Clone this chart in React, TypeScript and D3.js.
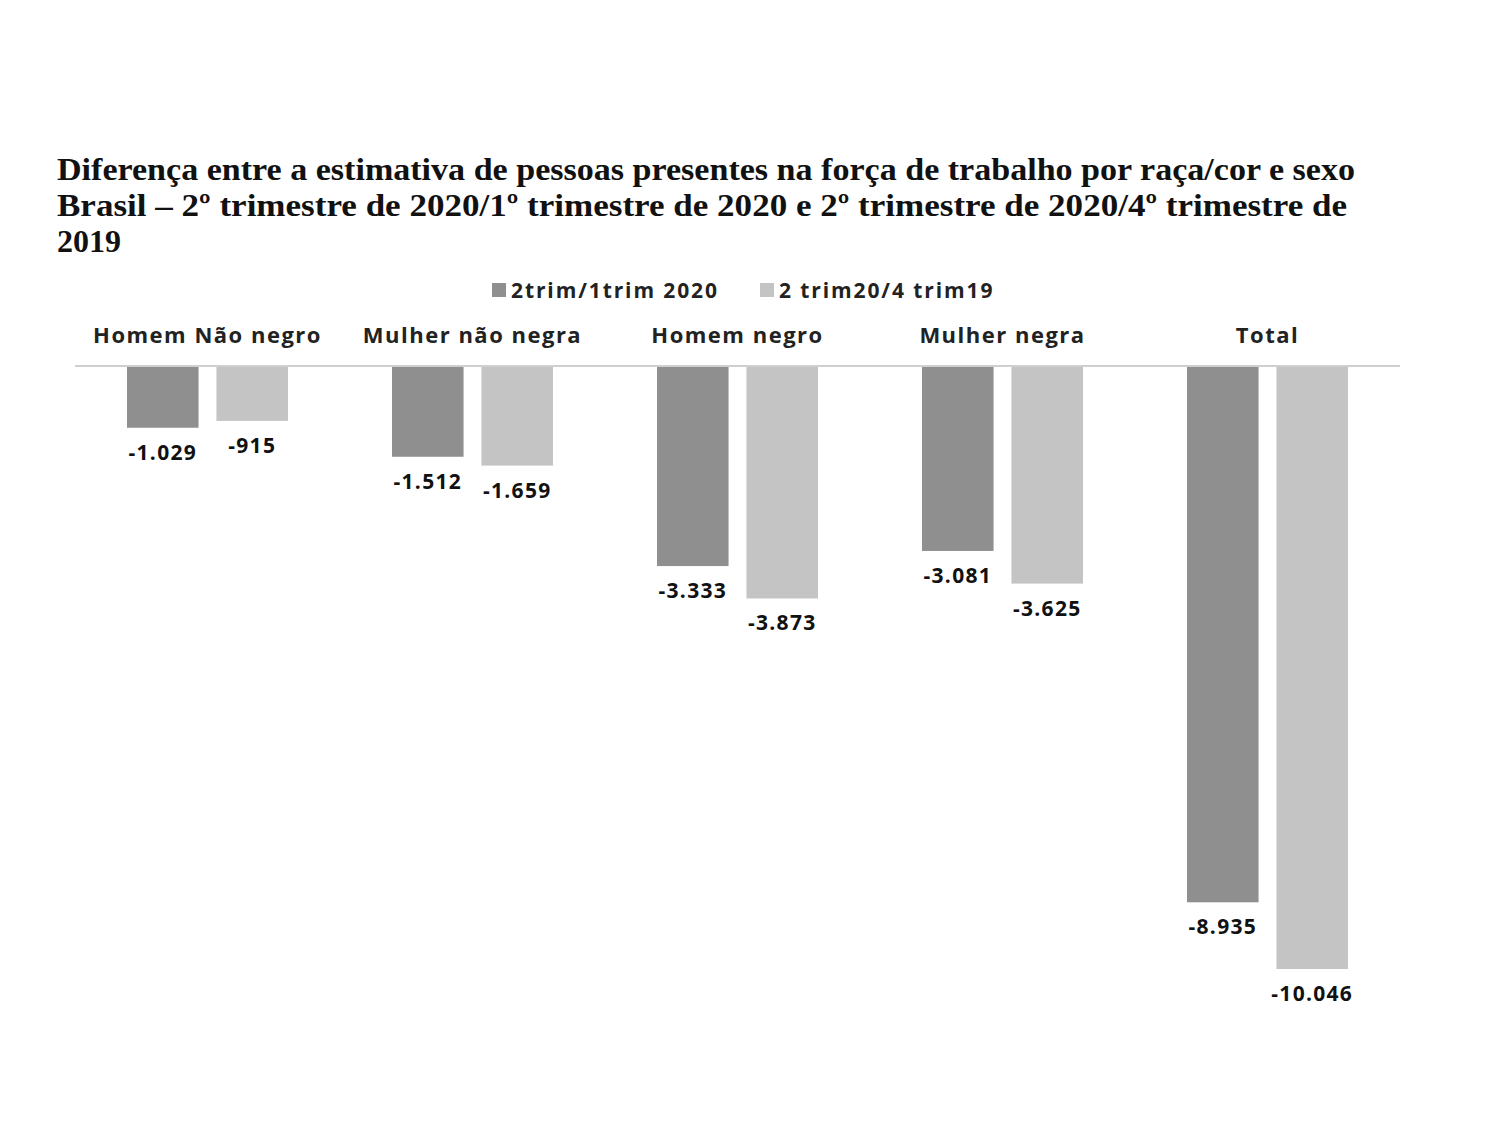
import React, { useEffect, useRef } from 'react';
import * as d3 from 'd3';

const categories = ['Homem Não negro', 'Mulher não negra', 'Homem negro', 'Mulher negra', 'Total'];
const seriesNames = ['2trim/1trim 2020', '2 trim20/4 trim19'];
const trim1Values = [-1029, -1512, -3333, -3081, -8935];
const trim4Values = [-915, -1659, -3873, -3625, -10046];
const titleLines = [
	'Diferença entre a estimativa de pessoas presentes na força de trabalho por raça/cor e sexo',
	'Brasil – 2º trimestre de 2020/1º trimestre de 2020 e 2º trimestre de 2020/4º trimestre de',
	'2019',
];
const titleWidths = [1298, 1290, null];

const colors = ['#8f8f8f', '#c4c4c4'];
const fmt = (v: number) => d3.format(',')(v).replace(/,/g, '.').replace('−', '-');

const App: React.FC = () => {
	const svgRef = useRef<SVGSVGElement | null>(null);

	useEffect(() => {
		if (!svgRef.current) return;
		const width = 1506;
		const height = 1131;
		const svg = d3.select(svgRef.current).attr('width', width).attr('height', height);
		svg.selectAll('*').remove();

		svg.append('rect').attr('width', width).attr('height', height).attr('fill', '#fff');

		// título
		svg
			.append('g')
			.selectAll('text')
			.data(titleLines)
			.join('text')
			.attr('x', 57)
			.attr('y', (_, i) => 180 + i * 36)
			.attr('font-family', '"Liberation Serif", serif')
			.attr('font-weight', 'bold')
			.attr('font-size', 32)
			.attr('fill', '#111')
			.attr('textLength', (_, i) => titleWidths[i])
			.attr('lengthAdjust', 'spacingAndGlyphs')
			.text((d) => d);

		const sansFont = '"Open Sans", Lato, sans-serif';

		// legenda
		const legendX = [492, 760];
		const legend = svg
			.append('g')
			.selectAll('g')
			.data(seriesNames)
			.join('g')
			.attr('transform', (_, i) => `translate(${legendX[i]}, 283)`);
		legend
			.append('rect')
			.attr('width', 14)
			.attr('height', 14)
			.attr('fill', (_, i) => colors[i]);
		legend
			.append('text')
			.attr('x', 19)
			.attr('y', 15)
			.attr('font-family', sansFont)
			.attr('font-weight', 'bold')
			.attr('font-size', 21)
			.attr('letter-spacing', 1.9)
			.attr('fill', '#222')
			.text((d) => d);

		const x0 = d3.scaleBand<string>().domain(categories).range([75, 1400]).padding(0);
		const x1 = d3
			.scaleBand<number>()
			.domain([0, 1])
			.range([52, x0.bandwidth() - 52])
			.paddingInner(0.2);
		const y = d3.scaleLinear().domain([0, -10046]).range([366, 969]);

		// rótulos das categorias
		svg
			.append('g')
			.selectAll('text')
			.data(categories)
			.join('text')
			.attr('x', (d) => x0(d)! + x0.bandwidth() / 2)
			.attr('y', 343)
			.attr('text-anchor', 'middle')
			.attr('font-family', sansFont)
			.attr('font-weight', 'bold')
			.attr('font-size', 22)
			.attr('letter-spacing', 1.5)
			.attr('fill', '#222')
			.text((d) => d);

		const rows = categories.flatMap((c, i) => [
			{ c, s: 0, v: trim1Values[i] },
			{ c, s: 1, v: trim4Values[i] },
		]);

		svg
			.append('g')
			.selectAll('rect')
			.data(rows)
			.join('rect')
			.attr('x', (d) => x0(d.c)! + x1(d.s)!)
			.attr('y', y(0))
			.attr('width', x1.bandwidth())
			.attr('height', (d) => y(d.v) - y(0))
			.attr('fill', (d) => colors[d.s]);

		svg
			.append('g')
			.selectAll('text')
			.data(rows)
			.join('text')
			.attr('x', (d) => x0(d.c)! + x1(d.s)! + x1.bandwidth() / 2)
			.attr('y', (d) => y(d.v) + 32)
			.attr('text-anchor', 'middle')
			.attr('font-family', sansFont)
			.attr('font-weight', 'bold')
			.attr('font-size', 21)
			.attr('letter-spacing', 1.3)
			.attr('fill', '#111')
			.text((d) => fmt(d.v));

		// linha de base
		svg
			.append('line')
			.attr('x1', 75)
			.attr('x2', 1400)
			.attr('y1', y(0))
			.attr('y2', y(0))
			.attr('stroke', '#cfcfcf')
			.attr('stroke-width', 2);
	}, []);

	return <svg ref={svgRef} style={{ position: 'absolute', left: 0, top: 0 }}></svg>;
};

export default App;
